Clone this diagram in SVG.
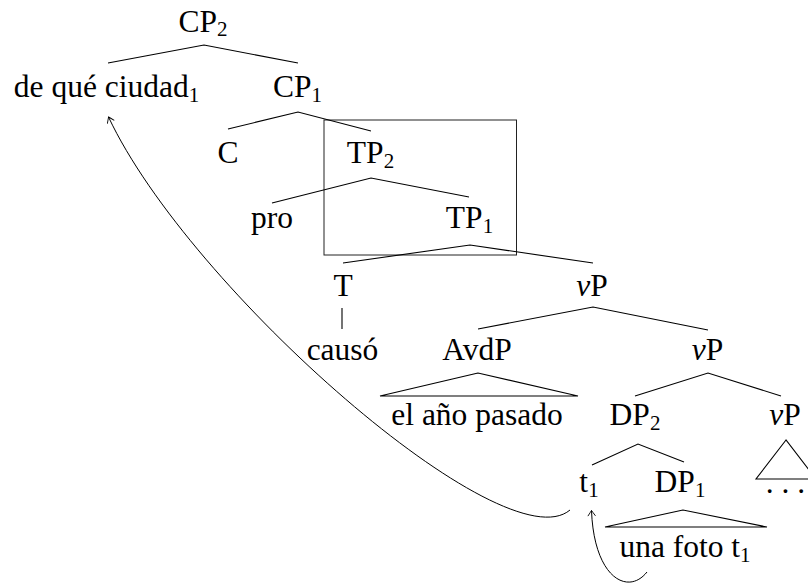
<svg xmlns="http://www.w3.org/2000/svg" width="808" height="584" viewBox="0 0 808 584">
<style>
  text { font-family: "Liberation Serif", "Times New Roman", Times, serif; font-size: 31.5px; fill: #000; text-anchor: middle; }
  .s { font-size: 21px; }
  .e { stroke: #000; stroke-width: 1.1; fill: none; }
  .box { stroke: #222; stroke-width: 1; fill: none; }
  .arr { stroke: #000; stroke-width: 1; fill: none; marker-end: url(#to); }
</style>
<defs>
  <marker id="to" viewBox="-7 -5 9 10" refX="0" refY="0" markerWidth="9" markerHeight="10" markerUnits="userSpaceOnUse" orient="auto">
    <path d="M -5.5 -3.8 Q -1.5 -1 0 0 Q -1.5 1 -5.5 3.8" stroke="#000" stroke-width="0.9" fill="none"/>
  </marker>
</defs>
<rect id="box" class="box" x="324" y="120" width="192.5" height="135"/>
<g id="connectors">
  <polyline class="e" points="108,63 204,45 298,63"/>
  <polyline class="e" points="228,129 298,112 371,131"/>
  <polyline class="e" points="272,203 371,178 469,197"/>
  <polyline class="e" points="343,263 470,245 593,263"/>
  <line class="e" x1="342" y1="308" x2="342" y2="329"/>
  <polyline class="e" points="478,329 593,307 708,330"/>
  <polygon class="e" points="478,373 380,396 578,396"/>
  <polyline class="e" points="635,396 708,373 781,396"/>
  <polyline class="e" points="592,465 638,444 684,462"/>
  <polygon class="e" points="786,440 756,479 816,479"/>
  <polygon class="e" points="683,510 605,527 767,527"/>
  <path class="arr" d="M 570 510 C 505 565, 190 290, 108.5 117"/>
  <path class="arr" d="M 647 572 C 628 596, 594 578, 591.5 510.5"/>
</g>
<g font-family="Liberation Serif, serif">
<g id="CP2"><text x="203" y="31.5">CP<tspan class="s" dy="4.5">2</tspan></text></g>
<g id="dequeciudad"><text x="106.5" y="97">de qué ciudad<tspan class="s" dy="4.5">1</tspan></text></g>
<g id="CP1"><text x="297.5" y="97">CP<tspan class="s" dy="4.5">1</tspan></text></g>
<g id="C"><text x="228" y="163">C</text></g>
<g id="TP2"><text x="370.5" y="163">TP<tspan class="s" dy="4.5">2</tspan></text></g>
<g id="pro"><text x="272" y="228">pro</text></g>
<g id="TP1"><text x="469.5" y="228">TP<tspan class="s" dy="4.5">1</tspan></text></g>
<g id="T"><text x="343" y="296">T</text></g>
<g id="vP1"><text x="592" y="296"><tspan font-style="italic">v</tspan>P</text></g>
<g id="causo"><text x="342.5" y="360">causó</text></g>
<g id="AvdP"><text x="477" y="360">AvdP</text></g>
<g id="vP2"><text x="707.5" y="360"><tspan font-style="italic">v</tspan>P</text></g>
<g id="elanopasado"><text x="477" y="425">el año pasado</text></g>
<g id="DP2"><text x="635" y="425">DP<tspan class="s" dy="4.5">2</tspan></text></g>
<g id="vP3"><text x="785" y="425"><tspan font-style="italic">v</tspan>P</text></g>
<g id="dots"><text x="785.5" y="493">. . .</text></g>
<g id="t1"><text x="589" y="492">t<tspan class="s" dy="4.5">1</tspan></text></g>
<g id="DP1"><text x="680" y="492">DP<tspan class="s" dy="4.5">1</tspan></text></g>
<g id="unafoto"><text x="685" y="557">una foto t<tspan class="s" dy="4.5">1</tspan></text></g>
</g>
</svg>
